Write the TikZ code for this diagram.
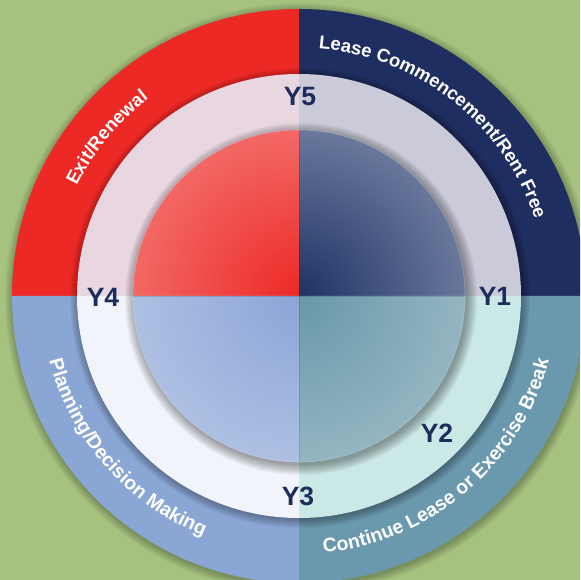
\documentclass[tikz,border=0pt]{standalone}
\usepackage{fontspec}
\setmainfont{Liberation Sans}
\usetikzlibrary{decorations.text}

\definecolor{bggreen}{RGB}{166,194,126}
\definecolor{bandred}{RGB}{237,41,38}
\definecolor{bandnavy}{RGB}{31,46,96}
\definecolor{bandteal}{RGB}{106,152,172}
\definecolor{bandblue}{RGB}{138,166,213}
\definecolor{ringred}{RGB}{232,214,224}
\definecolor{ringnavy}{RGB}{202,202,216}
\definecolor{ringteal}{RGB}{202,232,230}
\definecolor{ringblue}{RGB}{241,245,251}
\definecolor{labelnavy}{RGB}{28,45,92}

\newcommand\bandfont{\color{white}\bfseries\fontsize{18.5}{18.5}\selectfont}
\newcommand\lowbandfont{\color{white}\bfseries\fontsize{19.5}{19.5}\selectfont}

\begin{document}
\begin{tikzpicture}[x=1pt,y=1pt,
                    yearlabel/.style={text=labelnavy, font=\bfseries\fontsize{26.5}{26.5}\selectfont, inner sep=0pt},
                    bandtext/.style={decorate, decoration={text along path, text align=center, text={#1}}}]

                    \useasboundingbox (-299,-284) rectangle (281,296);
                    \fill[bggreen] (-299,-284) rectangle (281,296);
                    \clip (-299,-284) rectangle (281,296);

                    \foreach \k in {1,...,9}
                        \fill[black, opacity=0.03] (1,-2) circle (286+\k);
                    \fill[bandred] (0,0) -- (0,287) arc (90:180:287) -- cycle;
                    \fill[bandnavy] (0,0) -- (287,0) arc (0:90:287) -- cycle;
                    \fill[bandteal] (0,0) -- (0,-287) arc (270:360:287) -- cycle;
                    \fill[bandblue] (0,0) -- (-287,0) arc (180:270:287) -- cycle;

                    \foreach \k in {1,...,9}
                        \fill[black, opacity=0.035] (1,-2) circle (221+\k);
                    \fill[ringred] (0,0) -- (0,222) arc (90:180:222) -- cycle;
                    \fill[ringnavy] (0,0) -- (222,0) arc (0:90:222) -- cycle;
                    \fill[ringteal] (0,0) -- (0,-222) arc (270:360:222) -- cycle;
                    \fill[ringblue] (0,0) -- (-222,0) arc (180:270:222) -- cycle;

                    \foreach \k in {1,...,11}
                        \fill[black, opacity=0.035] (2,-3) circle (165+\k);
                    \begin{scope}
                        \clip (0,0) -- (0,166) arc (90:180:166) -- cycle;
                        \shade[inner color=bandred, outer color={rgb,255:red,247;green,168;blue,164}] (0,0) circle (335);
                    \end{scope}
                    \begin{scope}
                        \clip (0,0) -- (166,0) arc (0:90:166) -- cycle;
                        \shade[inner color={rgb,255:red,30;green,50;blue,100}, outer color={rgb,255:red,168;green,178;blue,202}] (0,0) circle (305);
                    \end{scope}
                    \begin{scope}
                        \clip (0,0) -- (0,-166) arc (270:360:166) -- cycle;
                        \shade[inner color={rgb,255:red,104;green,152;blue,170}, outer color={rgb,255:red,192;green,211;blue,217}] (0,0) circle (332);
                    \end{scope}
                    \begin{scope}
                        \clip (0,0) -- (-166,0) arc (180:270:166) -- cycle;
                        \shade[inner color={rgb,255:red,140;green,165;blue,215}, outer color={rgb,255:red,206;green,219;blue,239}] (0,0) circle (332);
                    \end{scope}
                    \draw[black, opacity=0.12, line width=0.7] (-166,0) -- (166,0);
                    \draw[black, opacity=0.12, line width=0.7] (0,-166) -- (0,166);
                    \draw[white, opacity=0.25, line width=0.6] (0,0) circle (166);

                    \path[bandtext={|\bandfont|Exit/Renewal}] (185.5:248) arc (185.5:95.5:248);
                    \path[bandtext={|\bandfont|Lease Commencement/Rent Free}] (96.75:248) arc (96.75:6.75:248);
                    \path[bandtext={|\lowbandfont|Planning/Decision Making}] (176.4:258) arc (176.4:266.4:258);
                    \path[bandtext={|\lowbandfont|Continue Lease or Exercise Break}] (265.5:258) arc (265.5:355.5:258);

                    \node[yearlabel] (y5) at (1,199) {Y5};
                    \node[yearlabel] (y1) at (196,0) {Y1};
                    \node[yearlabel] (y2) at (138,-137) {Y2};
                    \node[yearlabel] (y3) at (-1,-200) {Y3};
                    \node[yearlabel] (y4) at (-196,-1) {Y4};
                \end{tikzpicture}
\end{document}
